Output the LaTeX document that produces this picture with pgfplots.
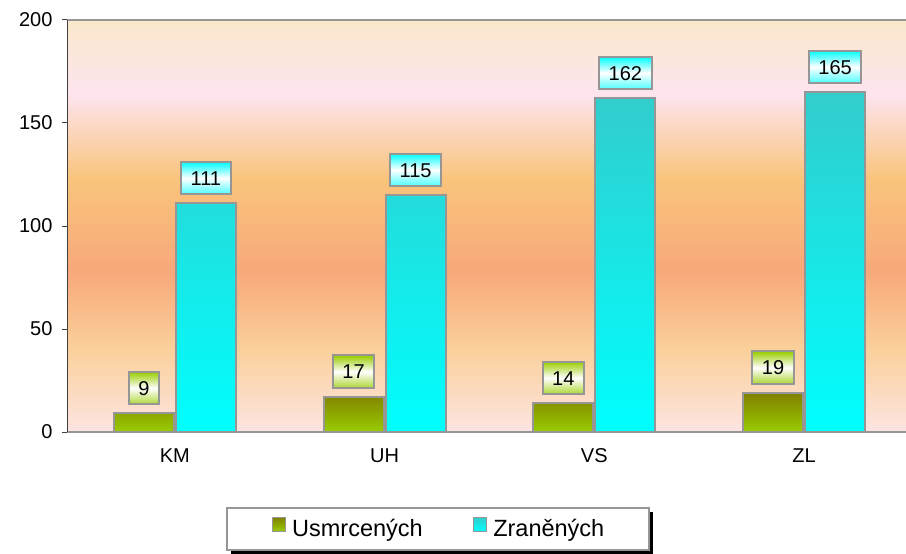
\documentclass[border=0pt]{standalone}
\usepackage{fontspec}
\setmainfont{Liberation Sans}
\usepackage{pgfplots}
\pgfplotsset{compat=1.18}
\usetikzlibrary{shadows}

\makeatletter
\tikzset{nopre/.code={\let\tikz@preactions\pgfutil@empty}}
\makeatother

\definecolor{gtop}{HTML}{808000}
\definecolor{gbot}{HTML}{99CC00}
\definecolor{ctop}{HTML}{33CCCC}
\definecolor{cbot}{HTML}{00FFFF}
\definecolor{bord}{HTML}{969696}
\definecolor{axl}{HTML}{404040}
\definecolor{bgA}{HTML}{FDE4E2}
\definecolor{bgB}{HTML}{FAD09A}
\definecolor{bgC}{HTML}{F8A87A}
\definecolor{bgD}{HTML}{F9C47C}
\definecolor{bgE}{HTML}{FDE4EE}
\definecolor{bgF}{HTML}{FAE8CC}

\pgfdeclareverticalshading{bgshade}{100bp}{%
color(0bp)=(bgA); color(25bp)=(bgA); color(35.2bp)=(bgB); color(44.4bp)=(bgC);
color(55.8bp)=(bgD); color(65.9bp)=(bgE); color(75bp)=(bgF); color(100bp)=(bgF)}

\pgfplotstableread{
x u z
0 9 111
1 17 115
2 14 162
3 19 165
}\datatable

\begin{document}
\begin{tikzpicture}
\begin{axis}[
  scale only axis, width=839bp, height=412bp,
  at={(0,0)}, anchor=south west,
  xmin=-0.514, xmax=3.486, ymin=0, ymax=200,
  ybar=2bp, bar width=60bp,
  axis background/.style={shade, shading=bgshade},
  axis line style={draw=none},
  xtick={0,1,2,3}, xticklabels={KM,UH,VS,ZL},
  x tick style={draw=none},
  ytick={0,50,100,150,200}, ytick pos=left,
  y tick style={draw=axl, line width=1bp},
  tick align=outside, major tick length=5bp,
  /pgf/number format/assume math mode=true,
  tick label style={font=\fontsize{20bp}{24bp}\selectfont, text=black},
  yticklabel style={xshift=-6bp},
  xticklabel style={yshift=-8bp},
  legend columns=2,
  legend style={at={(0.4422,-0.2354)}, anchor=center,
    draw=bord, line width=2bp, fill=white,
    drop shadow={shadow xshift=4bp, shadow yshift=-4bp, fill=black, opacity=1},
    font=\fontsize{23.5bp}{28bp}\selectfont,
    inner xsep=44.5bp, inner ysep=9bp,
    nodes={inner sep=0bp, text height=17bp, text depth=5bp},
    /tikz/every odd column/.append style={column sep=6bp},
    /tikz/every even column/.append style={column sep=50bp}},
  nodes near coords,
  every node near coord/.append style={font=\fontsize{20bp}{24bp}\selectfont,
    text=black, anchor=south, yshift=8bp, draw=bord, line width=2bp,
    inner xsep=9.5bp, inner ysep=9bp, text height=14.5bp, text depth=0bp},
]
\addplot[draw=bord, line width=2bp, top color=gtop, bottom color=gbot,
  every node near coord/.append style={top color=gbot, bottom color=gbot!80!white, middle color=white},
  legend image code/.code={\draw[nopre, draw=bord, line width=1.5bp, top color=gtop, bottom color=gbot] (0bp,-1bp) rectangle (13bp,13bp);}]
  table[x=x, y=u] {\datatable};
\addplot[draw=bord, line width=2bp, top color=ctop, bottom color=cbot,
  every node near coord/.append style={top color=cbot, bottom color=cbot!70!white, middle color=white},
  legend image code/.code={\draw[nopre, draw=bord, line width=1.5bp, top color=ctop, bottom color=cbot] (0bp,-1bp) rectangle (13bp,13bp);}]
  table[x=x, y=z] {\datatable};
\legend{Usmrcených, Zraněných}
\draw[bord, line width=2bp] (rel axis cs:0,1) -- (rel axis cs:1,1);
\draw[bord, line width=2bp] (rel axis cs:0,0) -- (rel axis cs:1,0);
\draw[axl, line width=1.5bp] (rel axis cs:0,0) -- (rel axis cs:0,1);
\end{axis}
\pgfresetboundingbox
\path (-67bp,-122bp) rectangle (839bp,432bp);
\end{tikzpicture}
\end{document}
